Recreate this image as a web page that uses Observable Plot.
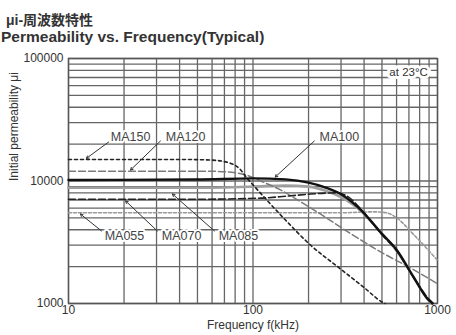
<!DOCTYPE html>
<html>
<head>
<meta charset="utf-8">
<script src="https://cdn.jsdelivr.net/npm/d3@7"></script>
<script src="https://cdn.jsdelivr.net/npm/@observablehq/plot@0.6"></script>
<style>
  html, body { margin: 0; padding: 0; background: #fff; }
  #chart { position: relative; width: 456px; height: 335px; overflow: hidden; }
  #chart svg { position: absolute; left: 0; top: 0; }
  .t1 { position: absolute; left: 6px; top: 9px; line-height: 15px; height: 15px; font: bold 14px "Liberation Sans", "Noto Sans CJK JP", sans-serif; color: #333; white-space: nowrap; z-index: 2; }
  .t2 { position: absolute; left: 1px; top: 28px; line-height: 14px; height: 14px; font: bold 15.5px "Liberation Sans", Arial, sans-serif; color: #333; white-space: nowrap; z-index: 2; }
</style>
</head>
<body>
<div id="chart">
  <div class="t1">μi-周波数特性</div>
  <div class="t2">Permeability vs. Frequency(Typical)</div>
</div>
<script>
// Axis ticks and grid (frequency in kHz, initial permeability)
const freqTicks = [10, 100, 1000];
const muTicks = [1000, 10000, 100000];
const freqGrid = [10, 20, 30, 40, 50, 60, 70, 80, 90, 100, 200, 300, 400, 500, 600, 700, 800, 900, 1000];
const muGrid = [1000, 2000, 3000, 4000, 5000, 6000, 7000, 8000, 9000, 10000,
  20000, 30000, 40000, 50000, 60000, 70000, 80000, 90000, 100000];

// Typical µi vs frequency for each material grade
const ma150Freq = [10, 40, 60, 75, 85, 93, 100, 150, 200, 300, 400, 500, 520];
const ma150Mu   = [15000, 15000, 14800, 14000, 12500, 10500, 9300, 4800, 3100, 1900, 1350, 1030, 1000];

const ma120Freq = [10, 40, 60, 80, 95, 110, 140, 180, 250, 350, 500, 714, 1000];
const ma120Mu   = [12000, 12000, 12000, 11700, 11000, 10000, 8500, 6800, 5000, 3600, 2600, 1950, 1450];

const ma100Freq = [10, 50, 100, 150, 200, 250, 300, 380, 500, 600, 740, 880, 940];
const ma100Mu   = [10200, 10300, 10500, 10300, 9700, 8800, 7800, 5900, 3700, 2750, 1650, 1100, 1000];

const ma085Freq = [10, 50, 100, 150, 200, 250, 300, 400, 500, 600, 750, 900, 930];
const ma085Mu   = [8800, 8800, 9000, 9200, 9000, 8300, 7400, 5400, 3700, 2700, 1600, 1050, 1000];

const ma070Freq = [10, 50, 110, 150, 200, 280, 320, 400, 500, 600, 750, 900, 950];
const ma070Mu   = [7100, 7100, 7250, 7500, 7800, 8000, 7600, 5500, 3650, 2700, 1600, 1080, 1000];

const ma055Freq = [10, 100, 300, 450, 530, 600, 750, 1000];
const ma055Mu   = [5500, 5500, 5500, 5600, 5500, 5000, 3600, 2250];

// Callout text and leader lines (data coordinates)
const labelNames = ["MA150", "MA120", "MA100", "MA055", "MA070", "MA085"];
const labelFreq  = [21.7, 43.1, 294, 20.1, 41.0, 83.4];
const labelMu    = [22860, 22860, 22860, 3556, 3556, 3556];
const leaderFromFreq = [16.5, 31.5, 215, 15.1, 30.3, 61.8];
const leaderFromMu   = [20800, 21200, 21200, 3908, 3908, 3908];
const leaderToFreq   = [12.5, 21.7, 132, 11.6, 20.4, 36.6];
const leaderToMu     = [15300, 12300, 10780, 5380, 6870, 7830];

const pts = (fs, ms) => fs.map((f, i) => ({f, mu: ms[i]}));
const labels = labelNames.map((name, i) => ({name, f: labelFreq[i], mu: labelMu[i]}));
const leaders = labelNames.map((name, i) => ({
  x1: leaderFromFreq[i], y1: leaderFromMu[i], x2: leaderToFreq[i], y2: leaderToMu[i]
}));

const curve = "monotone-x";
const gridStyle = {stroke: "#666", strokeWidth: 1.3};

const chart = Plot.plot({
  width: 456,
  height: 335,
  marginLeft: 68,
  marginRight: 19,
  marginTop: 58,
  marginBottom: 32,
  style: {fontFamily: "'Liberation Sans', Arial, sans-serif", fontSize: "12px", color: "#333", background: "transparent"},
  x: {type: "log", domain: [10, 1000], ticks: freqTicks, tickFormat: d => String(d), tickSize: 0, tickPadding: 2, label: null},
  y: {type: "log", domain: [1000, 100000], ticks: muTicks, tickFormat: d => String(d), tickSize: 0, tickPadding: 5, label: null},
  marks: [
    Plot.ruleX(freqGrid, gridStyle),
    Plot.ruleY(muGrid, gridStyle),
    Plot.frame({stroke: "#555", strokeWidth: 1.4}),

    Plot.line(pts(ma055Freq, ma055Mu), {x: "f", y: "mu", curve, stroke: "#9a9a9a", strokeWidth: 1.6, strokeDasharray: "3,2"}),
    Plot.line(pts(ma085Freq, ma085Mu), {x: "f", y: "mu", curve, stroke: "#a0a0a0", strokeWidth: 2.6}),
    Plot.line(pts(ma120Freq, ma120Mu), {x: "f", y: "mu", curve, stroke: "#7a7a7a", strokeWidth: 1.5, strokeDasharray: "7,3"}),
    Plot.line(pts(ma070Freq, ma070Mu), {x: "f", y: "mu", curve, stroke: "#222", strokeWidth: 1.6, strokeDasharray: "7,3"}),
    Plot.line(pts(ma150Freq, ma150Mu), {x: "f", y: "mu", curve, stroke: "#222", strokeWidth: 1.6, strokeDasharray: "3,3"}),
    Plot.line(pts(ma100Freq, ma100Mu), {x: "f", y: "mu", curve, stroke: "#111", strokeWidth: 2.4}),

    Plot.arrow(leaders, {x1: "x1", y1: "y1", x2: "x2", y2: "y2", stroke: "#333", strokeWidth: 1, headLength: 4}),
    Plot.text(labels, {x: "f", y: "mu", text: "name", fontSize: 12.5, fill: "#444", stroke: "white", strokeWidth: 4}),

    Plot.text(["at 23°C"], {x: 697, y: 77600, fontSize: 11.5, fill: "#333", stroke: "white", strokeWidth: 6, strokeLinejoin: "miter"}),

    Plot.text(["Initial permeability μi"], {frameAnchor: "left", dx: -54, rotate: -90, fontSize: 12, fill: "#333"}),
    Plot.text(["Frequency f(kHz)"], {frameAnchor: "bottom", dy: 25, fontSize: 12, fill: "#333"})
  ]
});

document.getElementById("chart").appendChild(chart);
</script>
</body>
</html>
